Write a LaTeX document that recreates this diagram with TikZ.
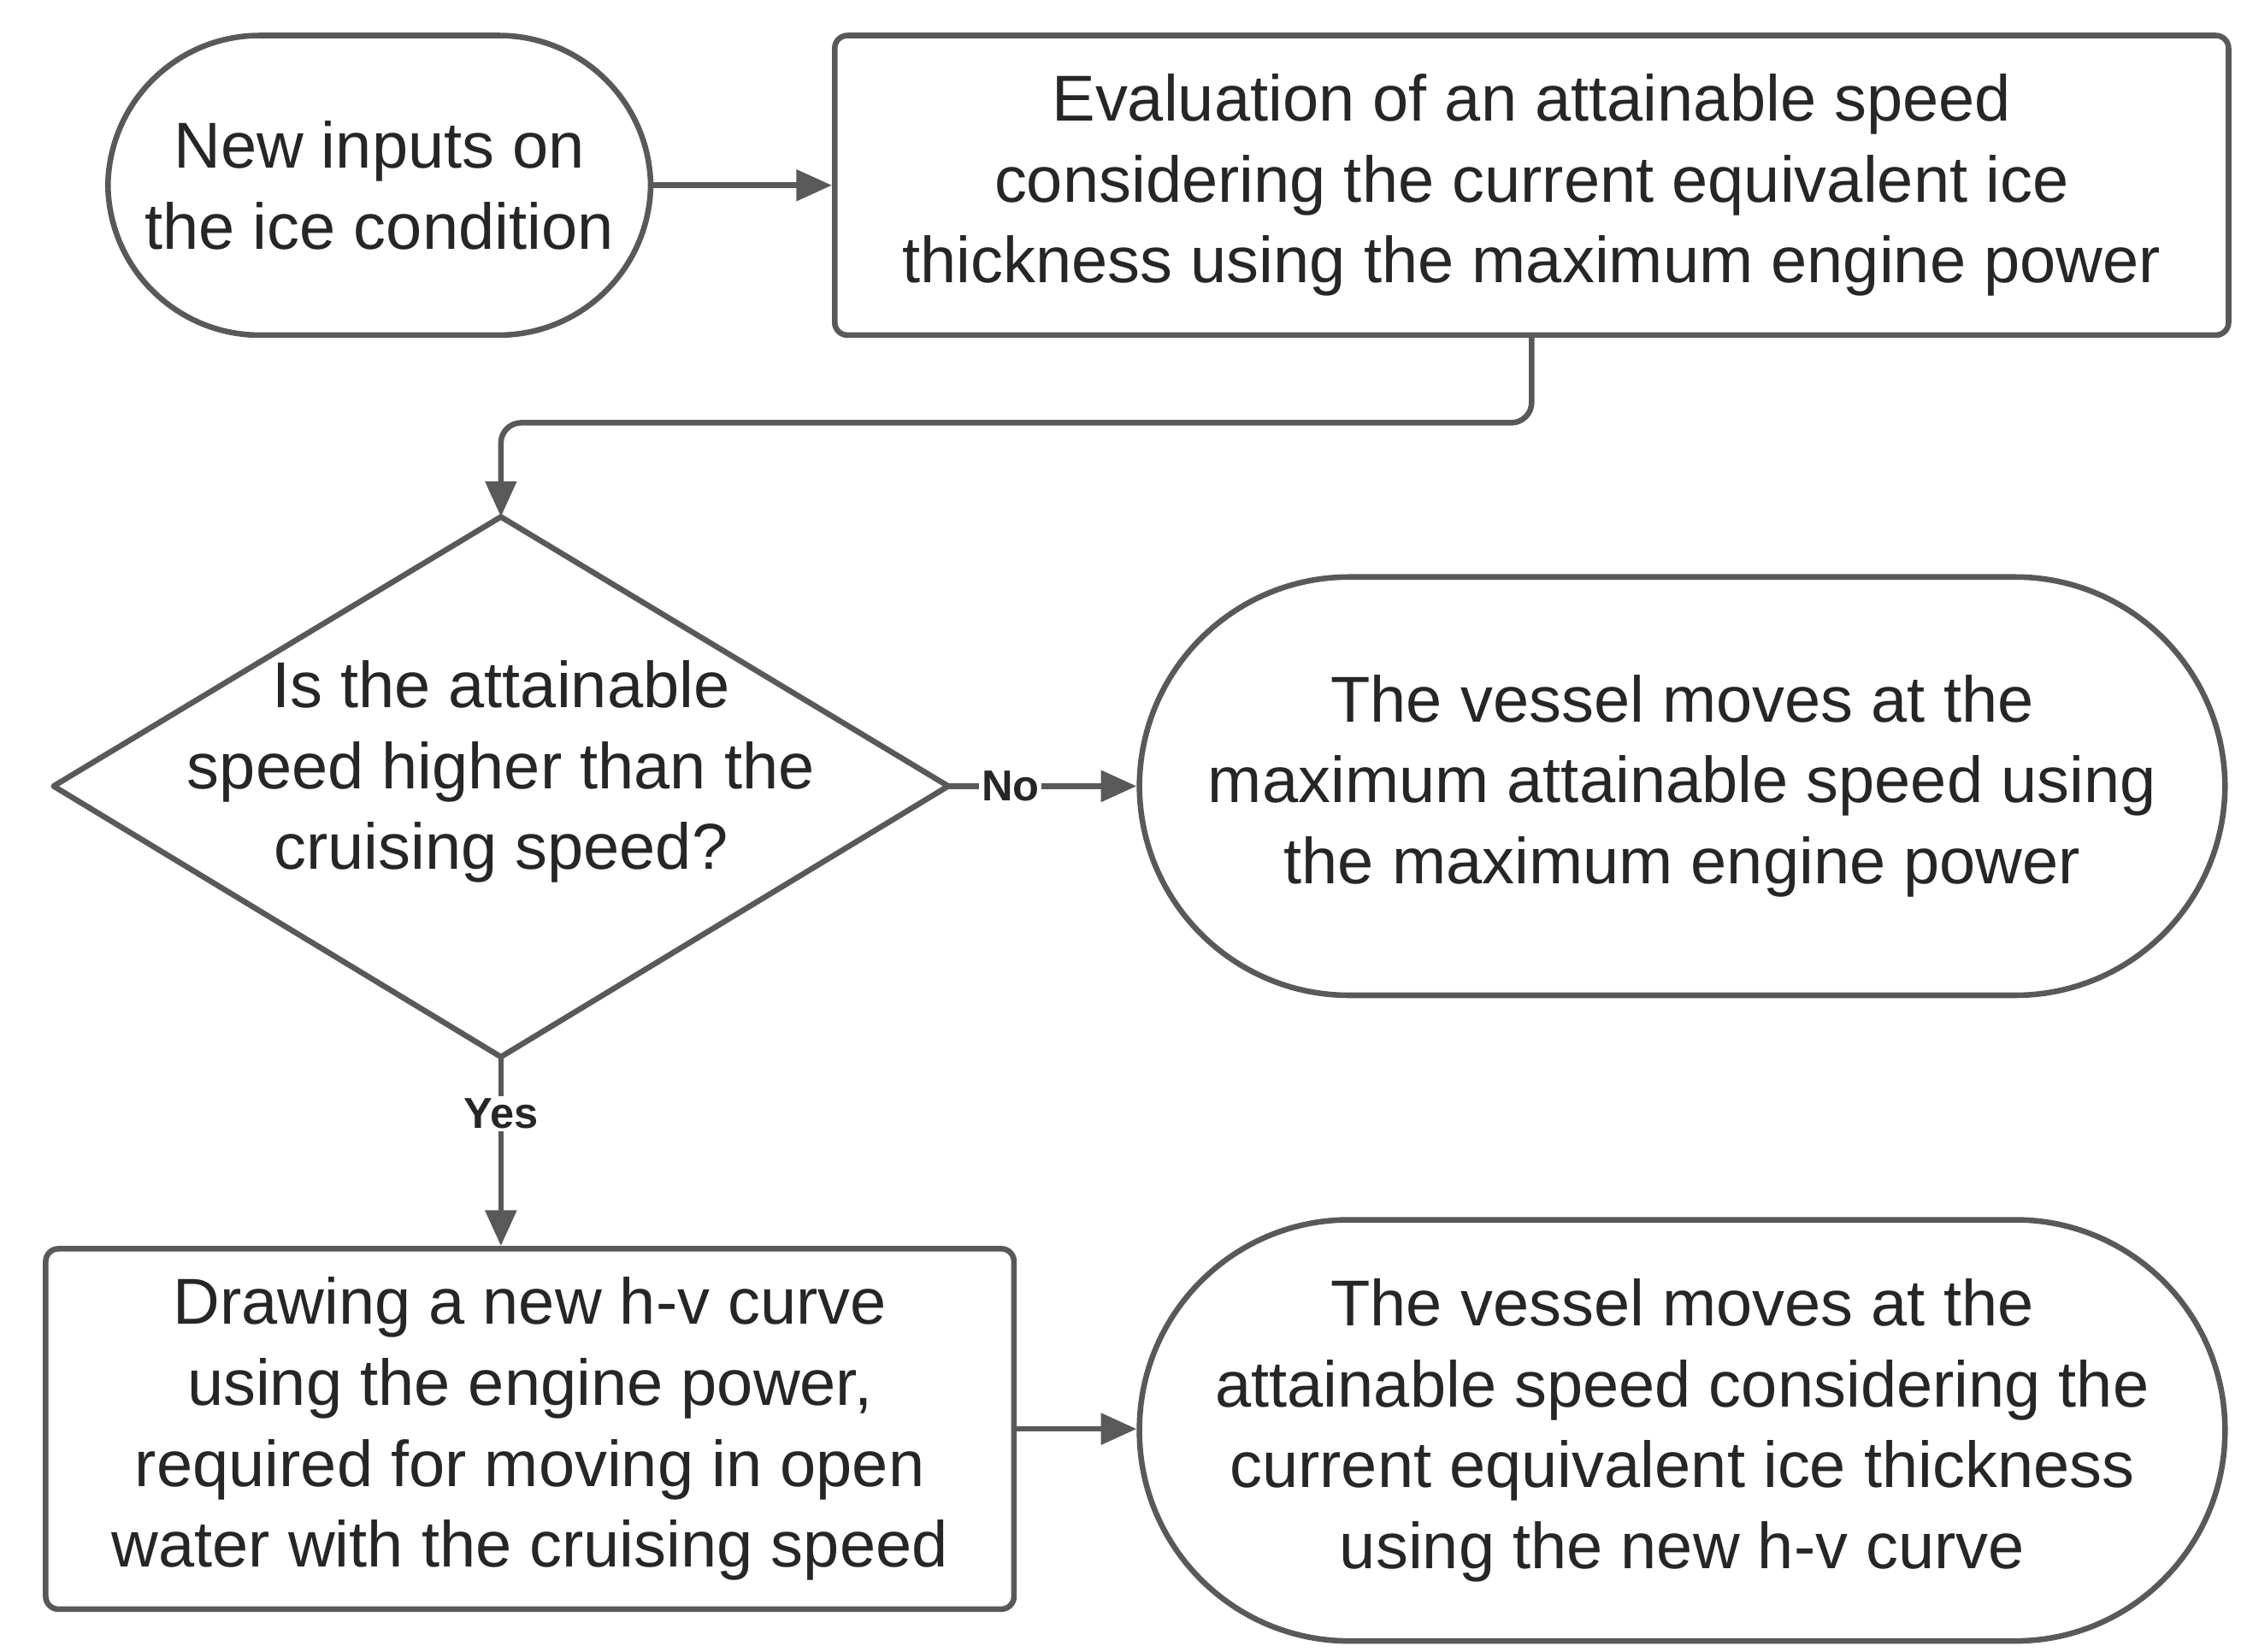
\documentclass[tikz,border=0pt]{standalone}
\usepackage{fontspec}
\setmainfont{Liberation Sans}
\usetikzlibrary{arrows.meta}
\begin{document}
\begin{tikzpicture}[x=0.02cm,y=-0.02cm,
  line/.style={draw=black!65,line width=2.2pt},
  arr/.style={line,-{Triangle[length=14pt,width=12pt]}},
  txt/.style={align=center,font=\fontsize{25.5}{31.8}\selectfont,text=black!85},
  box/.style={line,txt,rounded corners=5pt,inner sep=0pt},
  lab/.style={font=\bfseries\fontsize{17}{20}\selectfont,text=black!85,fill=white,inner sep=1pt}]
\useasboundingbox (0,0) rectangle (1548,1141);
\node[box,rounded corners=2.1cm,minimum width=7.5cm,minimum height=4.14cm] (start) at (262,128) {New inputs on\\the ice condition};
\node[box,minimum width=19.26cm,minimum height=4.14cm] (eval) at (1058,128) {Evaluation of an attainable speed\\considering the current equivalent ice\\thickness using the maximum engine power};
\draw[line,line join=round] (37,543) -- (346,357) -- (655,543) -- (346,730) -- cycle;
\coordinate (dt) at (346,357); \coordinate (dl) at (655,543); \coordinate (db) at (346,730);
\node[txt] (dec) at (346,533) {Is the attainable\\speed higher than the\\cruising speed?};
\node[box,rounded corners=2.9cm,minimum width=15.0cm,minimum height=5.78cm] (max) at (1162,543) {The vessel moves at the\\maximum attainable speed using\\the maximum engine power};
\node[box,minimum width=13.38cm,minimum height=4.98cm] (draw) at (366,987) {Drawing a new h-v curve\\using the engine power,\\required for moving in open\\water with the cruising speed};
\node[box,rounded corners=2.9cm,minimum width=15.0cm,minimum height=5.82cm] (att) at (1162,988) {The vessel moves at the\\attainable speed considering the\\current equivalent ice thickness\\using the new h-v curve};
\draw[arr] (start.east) -- (eval.west);
\draw[arr,rounded corners=8pt] (eval.south) -- (eval.south |- 0,292) -- (346,292) -- (dt);
\draw[arr] (dl) -- node[lab,pos=0.33]{No} (max.west);
\draw[arr] (db) -- node[lab,pos=0.3]{Yes} (draw.north -| db);
\draw[arr] (draw.east) -- (draw.east -| att.west);
\end{tikzpicture}
\end{document}
